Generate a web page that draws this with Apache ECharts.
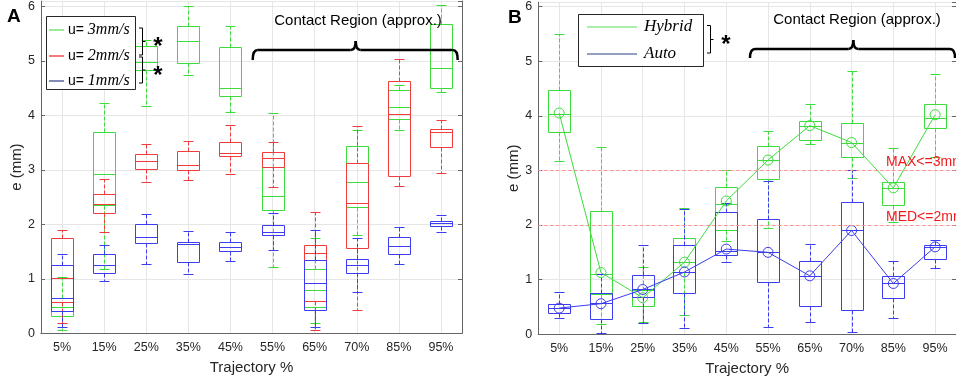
<!DOCTYPE html>
<html><head><meta charset="utf-8">
<script src="https://cdn.jsdelivr.net/npm/echarts@6/dist/echarts.min.js"></script>
<style>html,body{margin:0;padding:0;background:#fff}#c{width:956px;height:382px}</style>
</head><body><div id="c"></div>
<script>
const categories = ['5%','15%','25%','35%','45%','55%','65%','70%','85%','95%'];
// box stats: [min, q1, median, q3, max]
const a3mm = [[0.05,0.32,0.48,0.64,1.04],[1.17,2.35,2.92,3.69,4.23],[4.18,4.83,4.98,5.28,5.39],[4.75,4.97,5.37,5.65,6.01],[4.07,4.35,4.51,5.26,5.65],[1.21,2.27,2.52,3.06,4.05],[0.18,0.49,0.79,1.18,1.74],[1.81,2.32,2.77,3.43,3.73],[3.73,3.93,4.16,4.46,4.55],[4.43,4.50,4.87,5.67,6.02]];
const a2mm = [[0.18,0.57,1.01,1.74,1.89],[1.86,2.20,2.38,2.55,2.83],[2.77,3.01,3.17,3.30,3.48],[2.82,2.99,3.08,3.34,3.53],[2.93,3.26,3.31,3.52,3.83],[2.68,3.06,3.21,3.33,3.51],[0.05,0.59,1.48,1.62,2.22],[0.43,1.56,2.40,3.12,3.80],[2.70,2.88,4.02,4.63,5.04],[2.95,3.42,3.69,3.75,3.91]];
const a1mm = [[0.11,0.41,0.64,1.25,1.45],[0.95,1.10,1.26,1.45,1.62],[1.27,1.65,1.76,2.00,2.18],[1.08,1.31,1.63,1.68,1.88],[1.33,1.51,1.59,1.68,1.85],[1.53,1.80,1.85,1.98,2.20],[0.11,0.43,0.93,1.34,1.89],[0.75,1.10,1.25,1.36,1.74],[1.28,1.45,1.61,1.77,1.95],[1.86,1.96,2.02,2.06,2.17]];
const bHybrid = [[3.17,3.70,4.04,4.47,5.50],[0.19,0.73,1.11,2.26,3.42],[0.22,0.51,0.68,0.82,1.24],[0.36,1.14,1.32,1.76,2.32],[1.71,1.91,2.39,2.70,3.00],[1.95,2.85,3.19,3.45,3.73],[3.48,3.56,3.82,3.91,4.21],[2.87,3.25,3.51,3.87,4.82],[2.05,2.37,2.68,2.79,3.41],[3.25,3.77,3.96,4.21,4.76]];
const bAuto = [[0.30,0.39,0.48,0.56,0.77],[0.02,0.28,0.58,0.75,1.10],[0.21,0.68,0.83,1.09,1.64],[0.11,0.76,1.14,1.64,2.30],[1.33,1.46,1.53,2.23,2.40],[0.14,0.95,1.50,2.11,2.80],[0.22,0.52,1.07,1.34,1.65],[0.05,0.44,1.91,2.42,3.00],[0.29,0.67,0.93,1.06,1.34],[1.22,1.38,1.59,1.64,1.73]];
const bHybridMarks = [4.05,1.13,0.67,1.32,2.44,3.19,3.82,3.51,2.68,4.02];
const bAutoMarks = [0.48,0.56,0.82,1.14,1.56,1.50,1.07,1.90,0.93,1.60];
const refValues = [3, 2];
const refLabels = ['MAX<=3mm', 'MED<=2mm'];

const GREEN = '#3ddc3d', RED = '#f03c3c', BLUE = '#3c3cf0';
const FONT = 'Liberation Sans, Arial, sans-serif';
const AX = '#666666', GRIDC = '#e6e6e6', TXT = '#262626';

function boxRender(color) {
  return function (params, api) {
    const i = api.value(0);
    const cx = api.coord([i, 0])[0];
    const band = api.size([1, 0])[0];
    const hw = Math.round(band * 0.26), cw = Math.round(band * 0.12);
    const y = k => Math.round(api.coord([i, api.value(k)])[1]) + 0.5;
    const X = Math.round(cx) + 0.5;
    const ymin = y(1), yq1 = y(2), ymed = y(3), yq3 = y(4), ymax = y(5);
    const solid = { stroke: color, lineWidth: 1 };
    const dash = { stroke: color, lineWidth: 1, lineDash: [4, 2] };
    return { type: 'group', children: [
      { type: 'line', shape: { x1: X, y1: yq3, x2: X, y2: ymax }, style: dash },
      { type: 'line', shape: { x1: X, y1: yq1, x2: X, y2: ymin }, style: dash },
      { type: 'line', shape: { x1: X - cw, y1: ymax, x2: X + cw, y2: ymax }, style: solid },
      { type: 'line', shape: { x1: X - cw, y1: ymin, x2: X + cw, y2: ymin }, style: solid },
      { type: 'rect', shape: { x: X - hw, y: yq3, width: 2 * hw, height: yq1 - yq3 }, style: { stroke: color, fill: null, lineWidth: 1 } },
      { type: 'line', shape: { x1: X - hw, y1: ymed, x2: X + hw, y2: ymed }, style: solid }
    ]};
  };
}
function boxSeries(stats, color, xi, yi) {
  return { type: 'custom', xAxisIndex: xi, yAxisIndex: yi, renderItem: boxRender(color),
    encode: { x: 0, y: [1, 2, 3, 4, 5] }, data: stats.map((d, i) => [i].concat(d)), z: 3, silent: true };
}

function xAxes(gi) {
  return [
    { type: 'category', gridIndex: gi, data: categories, boundaryGap: true, position: 'bottom',
      axisLine: { lineStyle: { color: AX } }, axisTick: { inside: true, alignWithLabel: true, length: 4, lineStyle: { color: AX } },
      axisLabel: { interval: 0, color: TXT, fontSize: 12.5, fontFamily: FONT, margin: 8 },
      splitLine: { show: true, alignWithLabel: true, interval: 0, lineStyle: { color: GRIDC } },
      name: 'Trajectory %', nameLocation: 'middle', nameGap: 27, nameTextStyle: { color: TXT, fontSize: 15, fontFamily: FONT } },
    { type: 'category', gridIndex: gi, data: categories, boundaryGap: true, position: 'top',
      axisLine: { lineStyle: { color: AX } }, axisTick: { inside: true, alignWithLabel: true, length: 4, lineStyle: { color: AX } },
      axisLabel: { show: false }, splitLine: { show: false } }
  ];
}
function yAxes(gi, max) {
  return [
    { type: 'value', gridIndex: gi, min: 0, max: max, interval: 1, position: 'left',
      axisLine: { show: true, lineStyle: { color: AX } }, axisTick: { show: true, inside: true, length: 4, lineStyle: { color: AX } },
      axisLabel: { color: TXT, fontSize: 12.5, fontFamily: FONT, margin: 6, showMaxLabel: false },
      splitLine: { show: true, lineStyle: { color: GRIDC } },
      name: 'e (mm)', nameLocation: 'middle', nameGap: 13, nameRotate: 90, nameTextStyle: { color: TXT, fontSize: 15, fontFamily: FONT } },
    { type: 'value', gridIndex: gi, min: 0, max: max, interval: 1, position: 'right',
      axisLine: { show: true, lineStyle: { color: AX } }, axisTick: { show: true, inside: true, length: 4, lineStyle: { color: AX } },
      axisLabel: { show: false }, splitLine: { show: false } }
  ];
}

function brace(x1, x2, xm, yh, yend, ytop) {
  const s = { stroke: '#000', lineWidth: 2.5, fill: null };
  const r = 5;
  return [
    { type: 'bezierCurve', shape: { x1: x1, y1: yend, x2: x1 + r, y2: yh, cpx1: x1, cpy1: yh }, style: s },
    { type: 'line', shape: { x1: x1 + r, y1: yh, x2: xm - r, y2: yh }, style: s },
    { type: 'bezierCurve', shape: { x1: xm - r, y1: yh, x2: xm, y2: ytop, cpx1: xm, cpy1: yh }, style: s },
    { type: 'bezierCurve', shape: { x1: xm, y1: ytop, x2: xm + r, y2: yh, cpx1: xm, cpy1: yh }, style: s },
    { type: 'line', shape: { x1: xm + r, y1: yh, x2: x2 - r, y2: yh }, style: s },
    { type: 'bezierCurve', shape: { x1: x2 - r, y1: yh, x2: x2, y2: yend, cpx1: x2, cpy1: yh }, style: s }
  ];
}
function sqBracket(x, y1, y2, ym) {
  const s = { stroke: '#000', lineWidth: 1, fill: null };
  return [
    { type: 'polyline', shape: { points: [[x - 3.5, y1], [x, y1], [x, y2], [x - 3.5, y2]] }, style: s },
    { type: 'line', shape: { x1: x, y1: ym, x2: x + 3, y2: ym }, style: s }
  ];
}
function star(x, y) {
  return { type: 'text', x: x, y: y, style: { text: '*', fontSize: 24, fontWeight: 'bold', fontFamily: FONT, fill: '#000', align: 'center', verticalAlign: 'middle' } };
}
function legLine(x1, x2, y, c) {
  return { type: 'line', shape: { x1: x1, y1: y, x2: x2, y2: y }, style: { stroke: c, lineWidth: 1.2 } };
}
const serifIt = { fontFamily: 'Liberation Serif, DejaVu Serif, serif', fontStyle: 'italic', fontSize: 16, fill: '#000' };

const chart = echarts.init(document.getElementById('c'), null, { renderer: 'canvas' });
chart.setOption({
  backgroundColor: '#fff',
  animation: false,
  grid: [
    { left: 41, top: 1, width: 421, height: 332.2 },
    { left: 538.3, top: 0, width: 424.9, height: 334.3 }
  ],
  xAxis: xAxes(0).concat(xAxes(1)),
  yAxis: yAxes(0, 6.1).concat(yAxes(1, 6.08)),
  series: [
    boxSeries(a3mm, GREEN, 0, 0),
    boxSeries(a2mm, RED, 0, 0),
    boxSeries(a1mm, BLUE, 0, 0),
    boxSeries(bHybrid, GREEN, 2, 2),
    boxSeries(bAuto, BLUE, 2, 2),
    { type: 'line', xAxisIndex: 2, yAxisIndex: 2, data: bHybridMarks, symbol: 'circle', symbolSize: 10,
      lineStyle: { color: GREEN, width: 1 }, itemStyle: { color: 'rgba(0,0,0,0)', borderColor: GREEN, borderWidth: 1 }, z: 4, silent: true,
      markLine: { symbol: 'none', silent: true,
        lineStyle: { type: [3, 3], color: '#ff8c8c', width: 1 },
        label: { show: false },
        data: refValues.map(v => ({ yAxis: v })) } },
    { type: 'line', xAxisIndex: 2, yAxisIndex: 2, data: bAutoMarks, symbol: 'circle', symbolSize: 10,
      lineStyle: { color: BLUE, width: 1 }, itemStyle: { color: 'rgba(0,0,0,0)', borderColor: BLUE, borderWidth: 1 }, z: 4, silent: true }
  ]
});

const refTexts = refValues.map((v, k) => {
  const py = chart.convertToPixel({ yAxisIndex: 2 }, v);
  return { type: 'text', x: 886, y: py - 1, style: { text: refLabels[k], fontSize: 14, fontFamily: FONT, fill: '#ee1c1c', verticalAlign: 'bottom' } };
});

const graphics = [].concat(
  [{ type: 'text', x: 7, y: 17, style: { text: 'A', fontSize: 19, fontWeight: 'bold', fontFamily: FONT, fill: '#000', verticalAlign: 'middle' } },
   { type: 'text', x: 508, y: 18, style: { text: 'B', fontSize: 19, fontWeight: 'bold', fontFamily: FONT, fill: '#000', verticalAlign: 'middle' } },
   { type: 'rect', shape: { x: 46.5, y: 16.5, width: 89, height: 73 }, style: { fill: '#fff', stroke: '#262626', lineWidth: 1 }, z: 10 },
   legLine(49, 64, 30, '#55dd55'), legLine(49, 64, 56, '#ee2222'), legLine(49, 64, 81, '#2b3d85'),
   { type: 'text', x: 68, y: 30, style: { text: '{a|u= }{b|3mm/s}', verticalAlign: 'middle', rich: { a: { fontFamily: FONT, fontSize: 14, fill: '#000' }, b: serifIt } } },
   { type: 'text', x: 68, y: 56, style: { text: '{a|u= }{b|2mm/s}', verticalAlign: 'middle', rich: { a: { fontFamily: FONT, fontSize: 14, fill: '#000' }, b: serifIt } } },
   { type: 'text', x: 68, y: 81, style: { text: '{a|u= }{b|1mm/s}', verticalAlign: 'middle', rich: { a: { fontFamily: FONT, fontSize: 14, fill: '#000' }, b: serifIt } } },
   star(158, 47), star(158, 76),
   { type: 'rect', shape: { x: 578.5, y: 14.5, width: 125, height: 52 }, style: { fill: '#fff', stroke: '#262626', lineWidth: 1 }, z: 10 },
   legLine(587, 637, 27, '#55dd55'), legLine(587, 637, 54, '#2b3d85'),
   { type: 'text', x: 644, y: 27, style: Object.assign({ text: 'Hybrid', verticalAlign: 'middle' }, serifIt, { fontSize: 17 }) },
   { type: 'text', x: 644, y: 54, style: Object.assign({ text: 'Auto', verticalAlign: 'middle' }, serifIt, { fontSize: 17 }) },
   star(726, 45),
   { type: 'text', x: 358, y: 21, style: { text: 'Contact Region (approx.)', fontSize: 15, fontFamily: FONT, fill: '#000', align: 'center', verticalAlign: 'middle' } },
   { type: 'text', x: 857, y: 20, style: { text: 'Contact Region (approx.)', fontSize: 15, fontFamily: FONT, fill: '#000', align: 'center', verticalAlign: 'middle' } }
  ],
  refTexts,
  sqBracket(142.5, 28, 55, 41.5), sqBracket(142.5, 57, 83, 70), sqBracket(710.5, 25.5, 53, 39.5),
  brace(252.7, 457.7, 355.7, 50, 60, 41), brace(750, 955, 853.3, 49, 58, 40)
);
graphics.forEach(g => { if (g.z == null) g.z = 20; });
chart.setOption({ graphic: { elements: graphics } });
</script></body></html>
